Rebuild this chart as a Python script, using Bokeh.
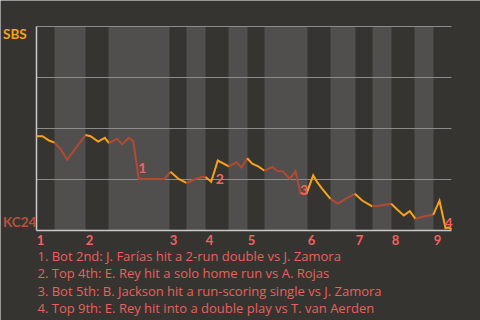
from bokeh.plotting import figure
from bokeh.models import Range1d, ColumnDataSource
from bokeh.embed import file_html
from bokeh.resources import INLINE
from bokeh.core.properties import value

# ---------------- data ----------------
# game progress (0 = first pitch, 415 = final out) and SBS win probability (%)
progress = [0, 6, 12.5, 18, 24, 30.7, 49, 54, 61.7, 68.3, 72.5, 80.5, 85.7, 92.3, 96.7,
            102.3, 128, 134, 142, 150, 158, 165, 169, 174.7, 181.3, 192.3, 200, 205,
            210.7, 215.7, 221.7, 228, 236, 241, 246.3, 253.3, 259, 264, 270, 276.7,
            280.7, 285.7, 294, 301.3, 309, 318.3, 325.7, 335.7, 344, 354.7, 360.7,
            367.3, 373.3, 379, 387.3, 396.7, 403, 409, 412.5, 415]
sbs_wp = [46.2, 46.2, 44.1, 43.1, 40.0, 34.7, 46.8, 46.2, 43.6, 45.4, 42.8, 45.0, 42.2,
          45.4, 43.8, 25.3, 25.3, 28.8, 25.3, 23.3, 25.0, 26.2, 26.2, 23.9, 34.3, 31.4,
          33.5, 30.9, 35.4, 32.8, 31.4, 29.3, 31.2, 29.1, 29.0, 25.3, 29.1, 18.1, 18.1,
          27.0, 23.7, 20.4, 15.5, 13.2, 15.5, 18.0, 14.7, 11.8, 12.3, 13.1, 10.3, 7.4,
          9.5, 5.7, 6.9, 7.7, 14.6, 1.2, 1.5, 0.5]
# start of each half inning (top 1st, bot 1st, top 2nd, ...), and game end
half_starts = [0, 18, 49, 72, 133, 150, 169, 192, 211, 228, 271, 294, 319, 336, 355, 378, 397]
game_end = 415
innings = ["1", "2", "3", "4", "5", "6", "7", "8", "9"]
grid_values = [25, 50, 75, 100]
team_top = "SBS"
team_bottom = "KC24"
event_marks = ["1", "2", "3", "4"]
event_vertex = [15, 23, 37, 57]
event_notes = [
    "1. Bot 2nd: J. Farías hit a 2-run double vs J. Zamora",
    "2. Top 4th: E. Rey hit a solo home run vs A. Rojas",
    "3. Bot 5th: B. Jackson hit a run-scoring single vs J. Zamora",
    "4. Top 9th: E. Rey hit into a double play vs T. van Aerden",
]

# ---------------- styles / layout ----------------
W, H = 480, 320
LEFT, RIGHT, TOP, BOTTOM = 36, 451, 26, 230
BG = "#363431"
BAND = "#504f4d"
GRID = "#8c8b89"
AXIS = "#c9c9c9"
ORANGE = "#f7a21b"
RED = "#b24a33"
SALMON = "#f2625f"
NOTE = "#e9605c"
KC = "#b8523c"
FONT = "Lato"
NOTE_FONT = "Open Sans"
event_dx = [3.5, 8.5, 3.5, 3]
event_dy = [-11, -3, -4, -5]

sx = (RIGHT - LEFT) / game_end
sy = (BOTTOM - TOP) / 100.0
x_range = Range1d(-LEFT / sx, game_end + (W - RIGHT) / sx)
y_range = Range1d(-(H - BOTTOM) / sy, 100 + TOP / sy)

p = figure(width=W, height=H, output_backend="svg", toolbar_location=None,
           x_range=x_range, y_range=y_range, min_border=0,
           x_axis_location=None, y_axis_location=None, outline_line_color=None,
           background_fill_color=BG, border_fill_color=BG)
p.grid.visible = False

# half-inning bands (bottom halves lighter)
ends = half_starts[1:] + [game_end]
bl = [half_starts[i] for i in range(1, len(half_starts), 2)]
br = [ends[i] for i in range(1, len(half_starts), 2)]
p.quad(left=bl, right=br, bottom=0, top=100, fill_color=BAND, line_color=None)

# grid lines and axis lines
p.segment(x0=[0] * len(grid_values), x1=[game_end] * len(grid_values),
          y0=grid_values, y1=grid_values, line_color=GRID, line_width=1)
p.segment(x0=[0, 0], y0=[0, 0], x1=[0, game_end], y1=[100, 0], line_color=AXIS, line_width=1.5)


# win probability line coloured by half inning
def half_of(xm):
    k = 0
    for i, s in enumerate(half_starts):
        if xm > s:
            k = i
    return k


xs_list, ys_list, cols = [], [], []
cur_col = None
for i in range(len(progress) - 1):
    mid = (progress[i] + progress[i + 1]) / 2
    col = ORANGE if half_of(mid) % 2 == 0 else RED
    if col != cur_col:
        xs_list.append([progress[i]])
        ys_list.append([sbs_wp[i]])
        cols.append(col)
        cur_col = col
    xs_list[-1].append(progress[i + 1])
    ys_list[-1].append(sbs_wp[i + 1])
p.multi_line(xs=xs_list, ys=ys_list, line_color=cols, line_width=2, line_join="miter")

# team labels
p.text(x=[0, 0], y=[100, 0], text=[team_top, team_bottom], x_offset=[-33.5, -33.5],
       y_offset=[7, -9], text_color=[ORANGE, KC], text_font=value(FONT),
       text_font_size="13.5px", text_font_style="bold", text_baseline="middle", text_align="left")

# inning labels
inn_x = [half_starts[i] for i in range(0, len(half_starts), 2)]
p.text(x=inn_x, y=[0] * len(inn_x), text=innings, x_offset=4, y_offset=9,
       text_color=SALMON, text_font=value(FONT), text_font_size="13px",
       text_font_style="bold", text_baseline="middle", text_align="center")

# event markers
ex = [progress[i] for i in event_vertex]
ey = [sbs_wp[i] for i in event_vertex]
p.text(x=ex, y=ey, text=event_marks, x_offset=event_dx, y_offset=event_dy,
       text_color=SALMON, text_font=value(FONT), text_font_size="14px",
       text_font_style="bold", text_baseline="middle", text_align="center")

# notes
p.text(x=[0] * len(event_notes), y=[0] * len(event_notes), text=event_notes,
       x_offset=1, y_offset=[25, 42.5, 60, 77.5], text_color=NOTE, text_font=value(NOTE_FONT),
       text_font_size="13px", text_baseline="middle", text_align="left")

open("out.html", "w").write(file_html(p, INLINE))
